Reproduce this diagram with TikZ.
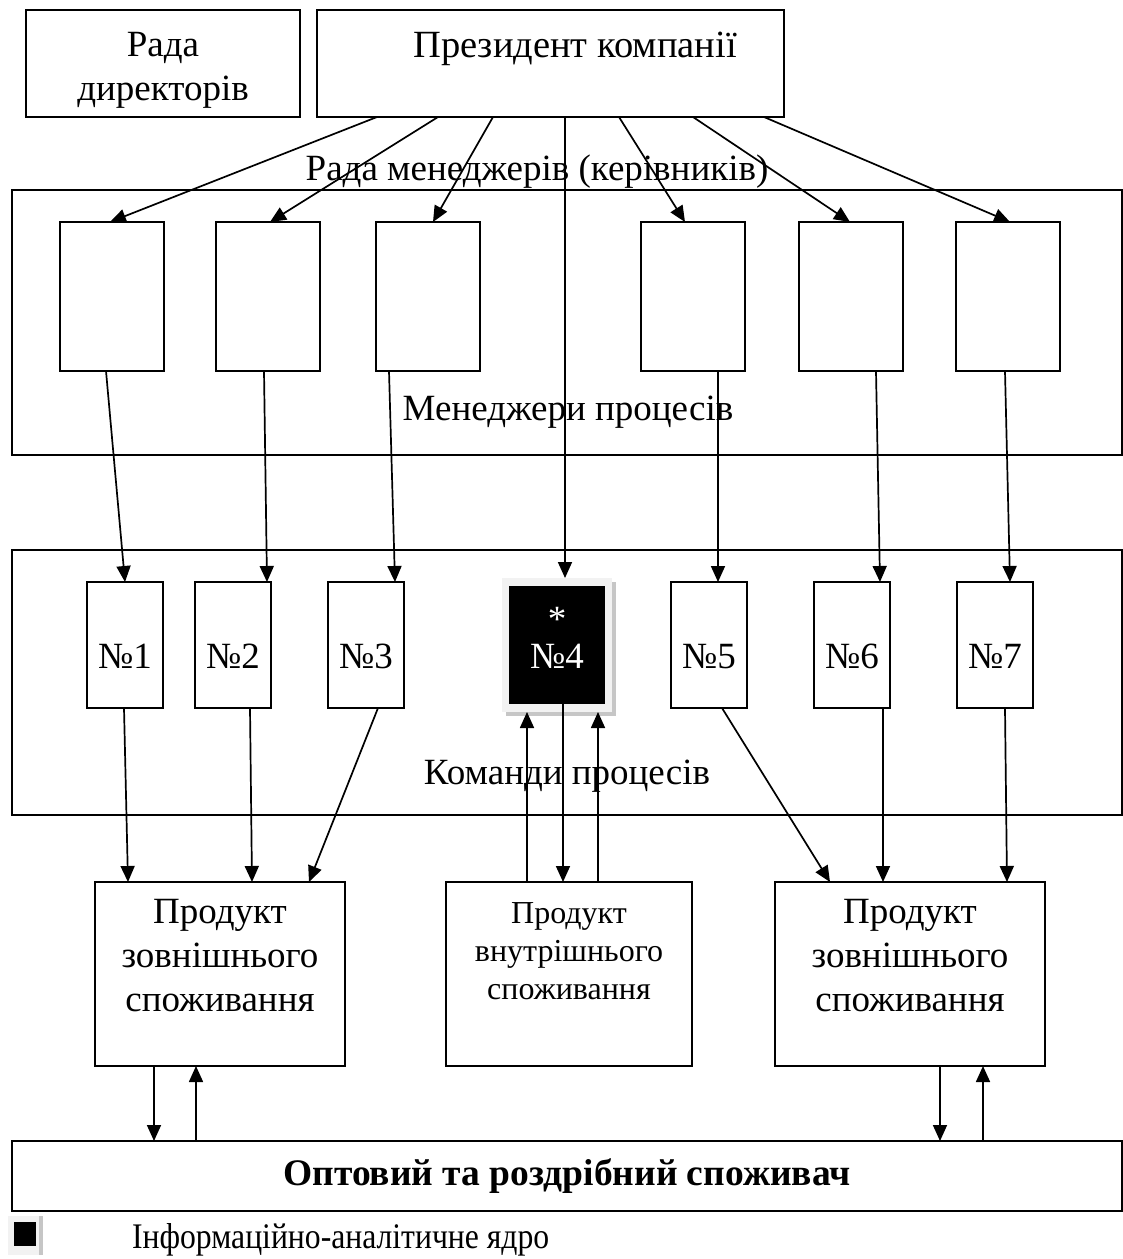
\documentclass[tikz,border=0pt]{standalone}
\usepackage{fontspec}
\setmainfont{Liberation Serif}
\usetikzlibrary{arrows.meta,calc}
\begin{document}
\begin{tikzpicture}[x=1pt,y=-1pt,
  box/.style={draw, line width=1.9pt, anchor=north west, inner sep=0pt, outer sep=0pt},
  arr/.style={-{Triangle[length=16pt,width=14pt]}, line width=1.7pt},
  big/.style={font=\fontsize{37}{44}\selectfont},
  small/.style={font=\fontsize{32}{38}\selectfont},
  mgrbox/.style={box, minimum width=104pt, minimum height=149pt},
  teambox/.style={box, minimum width=76pt, minimum height=126pt},
  teamlabel/.style={big, anchor=base},
  prodbox/.style={box, minimum height=184pt}
]
\useasboundingbox (0,0) rectangle (1123,1259);

% top level
\node[box, minimum width=274pt, minimum height=107pt] (rada) at (26,10) {};
\node[big, align=center] (radaT) at (163,70) {Рада\\директорів};
\node[box, minimum width=467pt, minimum height=107pt] (pres) at (317,10) {};
\node[font=\fontsize{38.5}{44}\selectfont, anchor=base] (presT) at (575,57) {Президент компанії};

% managers
\node[big, anchor=base] (mgrT) at (537,180) {Рада менеджерів (керівників)};
\node[box, minimum width=1110pt, minimum height=265pt] (mgr) at (12,190) {};
\node[mgrbox] (m1) at (60,222) {};
\node[mgrbox] (m2) at (216,222) {};
\node[mgrbox] (m3) at (376,222) {};
\node[mgrbox] (m4) at (641,222) {};
\node[mgrbox] (m5) at (799,222) {};
\node[mgrbox] (m6) at (956,222) {};
\node[big, anchor=base] (mpT) at (568,420) {Менеджери процесів};

% process teams
\node[box, minimum width=1110pt, minimum height=265pt] (team) at (12,550) {};
\node[teambox] (t1) at (87,582) {};
\node[teambox] (t2) at (195,582) {};
\node[teambox] (t3) at (328,582) {};
\node[teambox] (t5) at (671,582) {};
\node[teambox] (t6) at (814,582) {};
\node[teambox] (t7) at (957,582) {};
\node[teamlabel] (t1T) at (125,668) {№1};
\node[teamlabel] (t2T) at (233,668) {№2};
\node[teamlabel] (t3T) at (366,668) {№3};
\node[teamlabel] (t5T) at (709,668) {№5};
\node[teamlabel] (t6T) at (852,668) {№6};
\node[teamlabel] (t7T) at (995,668) {№7};
% information-analytical core
\fill[gray!45] (506,582) rectangle (616,716);
\node[anchor=north west, fill=gray!10, inner sep=0pt, outer sep=0pt,
      minimum width=110pt, minimum height=134pt] (t4f) at (502,578) {};
\node[box, draw=none, fill=black, minimum width=96pt, minimum height=118pt] (t4) at (509,586) {};
\node[big, text=white, anchor=base] (t4s) at (557,631) {*};
\node[big, text=white, anchor=base] (t4n) at (557,668) {№4};
\node[big, anchor=base] (tmT) at (567,784) {Команди процесів};

% products
\node[prodbox, minimum width=250pt] (p1) at (95,882) {};
\node[prodbox, minimum width=246pt] (p2) at (446,882) {};
\node[prodbox, minimum width=270pt] (p3) at (775,882) {};
\node[big, align=center] (p1T) at (220,956) {Продукт\\зовнішнього\\споживання};
\node[small, align=center] (p2T) at (569,951) {Продукт\\внутрішнього\\споживання};
\node[big, align=center] (p3T) at (910,956) {Продукт\\зовнішнього\\споживання};

% consumers
\node[box, minimum width=1110pt, minimum height=70pt, font=\bfseries\fontsize{37.5}{44}\selectfont] (cons) at (12,1141) {Оптовий та роздрібний споживач};

% legend
\fill[gray!45] (39,1216) rectangle (43,1255);
\node[anchor=north west, fill=gray!10, inner sep=0pt, outer sep=0pt,
      minimum width=31pt, minimum height=39pt] (lgf) at (8,1216) {};
\node[anchor=north west, fill=black, inner sep=0pt, outer sep=0pt,
      minimum width=22pt, minimum height=24pt] (lg) at (14,1222) {};
\node[font=\fontsize{36}{42}\selectfont, anchor=base west, xscale=0.88, transform shape] (lgT) at (129,1248) {Інформаційно-аналітичне ядро};

% president to managers
\draw[arr] ($(pres.south west)+(60,0)$)  -- ($(m1.north west)+(50,0)$);
\draw[arr] ($(pres.south west)+(121,0)$) -- ($(m2.north west)+(54,0)$);
\draw[arr] ($(pres.south west)+(176,0)$) -- ($(m3.north west)+(57,0)$);
\draw[arr] ($(pres.south west)+(248,0)$) -- ($(t4f.north west)+(63,0)$);
\draw[arr] ($(pres.south west)+(302,0)$) -- ($(m4.north west)+(44,0)$);
\draw[arr] ($(pres.south west)+(376,0)$) -- ($(m5.north west)+(51,0)$);
\draw[arr] ($(pres.south west)+(447,0)$) -- ($(m6.north west)+(54,0)$);

% managers to teams
\draw[arr] ($(m1.south west)+(46,0)$) -- ($(t1.north west)+(38,0)$);
\draw[arr] ($(m2.south west)+(48,0)$) -- ($(t2.north west)+(72,0)$);
\draw[arr] ($(m3.south west)+(13,0)$) -- ($(t3.north west)+(67,0)$);
\draw[arr] ($(m4.south west)+(77,0)$) -- ($(t5.north west)+(47,0)$);
\draw[arr] ($(m5.south west)+(77,0)$) -- ($(t6.north west)+(66,0)$);
\draw[arr] ($(m6.south west)+(49,0)$) -- ($(t7.north west)+(53,0)$);

% teams to products
\draw[arr] ($(t1.south west)+(37,0)$) -- ($(p1.north west)+(33,0)$);
\draw[arr] ($(t2.south west)+(55,0)$) -- ($(p1.north west)+(157,0)$);
\draw[arr] ($(t3.south west)+(50,0)$) -- ($(p1.north west)+(214,0)$);
\draw[arr] ($(t5.south west)+(51,0)$) -- ($(p3.north west)+(55,0)$);
\draw[arr] ($(t6.south west)+(69,0)$) -- ($(p3.north west)+(108,0)$);
\draw[arr] ($(t7.south west)+(48,0)$) -- ($(p3.north west)+(232,0)$);

% core and internal product
\draw[arr] ($(p2.north west)+(81,0)$)  -- ($(t4f.south west)+(25,0)$);
\draw[arr] ($(t4.south west)+(54,0)$)  -- ($(p2.north west)+(117,0)$);
\draw[arr] ($(p2.north west)+(152,0)$) -- ($(t4f.south west)+(96,0)$);

% products and consumers
\draw[arr] ($(p1.south west)+(59,0)$)   -- ($(cons.north west)+(142,0)$);
\draw[arr] ($(cons.north west)+(184,0)$) -- ($(p1.south west)+(101,0)$);
\draw[arr] ($(p3.south west)+(165,0)$)  -- ($(cons.north west)+(928,0)$);
\draw[arr] ($(cons.north west)+(971,0)$) -- ($(p3.south west)+(208,0)$);
\end{tikzpicture}
\end{document}
